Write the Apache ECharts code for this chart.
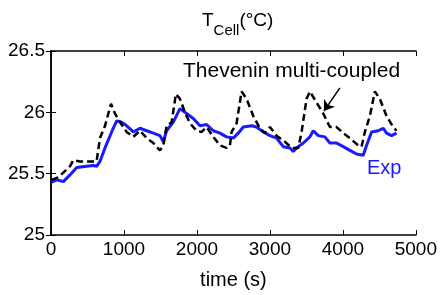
<!DOCTYPE html>
<html lang="en">
<head>
    <meta charset="UTF-8">
    <title>TCell</title>
    <script src="https://cdn.jsdelivr.net/npm/echarts@6/dist/echarts.min.js"></script>
    <style>
        * { margin: 0; padding: 0; }
        #main { width: 440px; height: 295px; background: #fff; }
    </style>
</head>
<body>
    <div id="main"></div>
    <script>
        // Thevenin multi-coupled model (black dashed)
        var simTime = [9, 100, 260, 306, 397, 580, 625, 671, 740, 822, 877, 945, 1037, 1128, 1219, 1311, 1402, 1493, 1539, 1584, 1653, 1712, 1767, 1836, 1904, 1995, 2064, 2133, 2224, 2315, 2406, 2452, 2475, 2543, 2612, 2680, 2772, 2863, 2932, 3000, 3091, 3205, 3297, 3388, 3434, 3502, 3548, 3639, 3731, 3822, 3913, 4005, 4096, 4210, 4256, 4301, 4370, 4438, 4507, 4598, 4689, 4735];
        var simTemp = [25.45, 25.47, 25.56, 25.61, 25.60, 25.60, 25.60, 25.79, 25.89, 26.07, 25.99, 25.92, 25.84, 25.80, 25.85, 25.79, 25.75, 25.69, 25.73, 25.89, 25.92, 26.15, 26.11, 26.00, 25.91, 25.85, 25.84, 25.88, 25.80, 25.73, 25.71, 25.73, 25.84, 25.91, 26.17, 26.11, 25.97, 25.87, 25.83, 25.88, 25.81, 25.76, 25.71, 25.71, 25.84, 26.11, 26.17, 26.08, 25.99, 25.88, 25.88, 25.83, 25.79, 25.73, 25.72, 25.84, 25.97, 26.17, 26.11, 25.97, 25.88, 25.85];

        // experiment (blue)
        var expTime = [9, 78, 169, 260, 352, 489, 580, 625, 671, 740, 831, 900, 968, 1037, 1128, 1219, 1311, 1402, 1493, 1539, 1584, 1676, 1767, 1858, 1950, 2041, 2133, 2224, 2315, 2406, 2498, 2566, 2635, 2749, 2817, 2909, 3000, 3091, 3183, 3274, 3320, 3365, 3457, 3548, 3594, 3662, 3753, 3822, 3913, 4005, 4096, 4187, 4279, 4324, 4393, 4484, 4553, 4598, 4667, 4735];
        var expTemp = [25.43, 25.45, 25.435, 25.49, 25.55, 25.56, 25.566, 25.56, 25.60, 25.71, 25.84, 25.93, 25.92, 25.89, 25.84, 25.87, 25.85, 25.83, 25.81, 25.76, 25.85, 25.92, 26.03, 25.99, 25.95, 25.89, 25.90, 25.85, 25.83, 25.80, 25.79, 25.83, 25.88, 25.89, 25.88, 25.84, 25.81, 25.79, 25.72, 25.71, 25.68, 25.71, 25.75, 25.80, 25.85, 25.81, 25.80, 25.75, 25.75, 25.72, 25.69, 25.66, 25.65, 25.73, 25.84, 25.85, 25.87, 25.83, 25.81, 25.83];

        var xTicks = [0, 1000, 2000, 3000, 4000, 5000];
        var yTicks = [25, 25.5, 26, 26.5];

        // arrow from label to the dashed curve, in data units
        var arrowFrom = [3959, 26.20];
        var arrowTo = [3740, 26.01];

        function pairs(xs, ys) {
            return xs.map(function (x, i) { return [x, ys[i]]; });
        }

        var font = '"Liberation Sans", Arial, sans-serif';
        var chart = echarts.init(document.getElementById('main'));

        var boxAxis = {
            axisLine: { show: true, lineStyle: { color: '#000', width: 1.5 } },
            axisTick: { show: true, inside: true, length: 5, lineStyle: { color: '#000', width: 1 } },
            splitLine: { show: false }
        };

        var option = {
            backgroundColor: '#fff',
            animation: false,
            title: {
                text: '{a|T}{b|Cell}{a|(°C)}',
                left: 197,
                top: 6,
                textStyle: {
                    fontWeight: 'normal',
                    rich: {
                        a: { fontFamily: font, fontSize: 19, color: '#000', fontWeight: 'normal', verticalAlign: 'top' },
                        b: { fontFamily: font, fontSize: 15, color: '#000', fontWeight: 'normal', padding: [12, 0, 0, 0] }
                    }
                }
            },
            grid: { left: 51, right: 24, top: 51, bottom: 57 },
            xAxis: [
                Object.assign({
                    type: 'value', min: 0, max: 5000, interval: 1000, position: 'bottom',
                    name: 'time (s)', nameLocation: 'middle', nameGap: 35,
                    nameTextStyle: { fontFamily: font, fontSize: 20, color: '#000' },
                    axisLabel: { fontFamily: font, fontSize: 19, color: '#000', margin: 5,
                        formatter: function (v) { return xTicks.indexOf(v) >= 0 ? String(v) : ''; } }
                }, boxAxis),
                Object.assign({
                    type: 'value', min: 0, max: 5000, interval: 1000, position: 'top',
                    axisLabel: { show: false }
                }, boxAxis)
            ],
            yAxis: [
                Object.assign({
                    type: 'value', min: 25, max: 26.5, interval: 0.5, position: 'left',
                    axisLabel: { fontFamily: font, fontSize: 19, color: '#000', margin: 6,
                        formatter: function (v) { return yTicks.indexOf(v) >= 0 ? String(v) : ''; } }
                }, boxAxis),
                Object.assign({
                    type: 'value', min: 25, max: 26.5, interval: 0.5, position: 'right',
                    axisLabel: { show: false }
                }, boxAxis)
            ],
            graphic: [
                { type: 'text', left: 183, top: 61,
                  style: { text: 'Thevenin multi-coupled', fontFamily: font, fontSize: 21, fill: '#000' } },
                { type: 'text', left: 367, top: 158,
                  style: { text: 'Exp', fontFamily: font, fontSize: 20, fill: '#1a1aff' } }
            ],
            series: [
                {
                    name: 'Exp', type: 'line', showSymbol: false,
                    data: pairs(expTime, expTemp),
                    lineStyle: { color: '#1a1aff', width: 3 },
                    z: 2
                },
                {
                    name: 'Thevenin multi-coupled', type: 'line', showSymbol: false,
                    data: pairs(simTime, simTemp),
                    lineStyle: { color: '#000', width: 2.5, type: [7, 4] },
                    z: 3,
                    markLine: {
                        silent: true,
                        symbol: ['none', 'arrow'],
                        symbolSize: 10,
                        label: { show: false },
                        lineStyle: { color: '#000', width: 1.5, type: 'solid' },
                        data: [[{ coord: arrowFrom }, { coord: arrowTo }]]
                    }
                }
            ]
        };

        chart.setOption(option);
    </script>
</body>
</html>
